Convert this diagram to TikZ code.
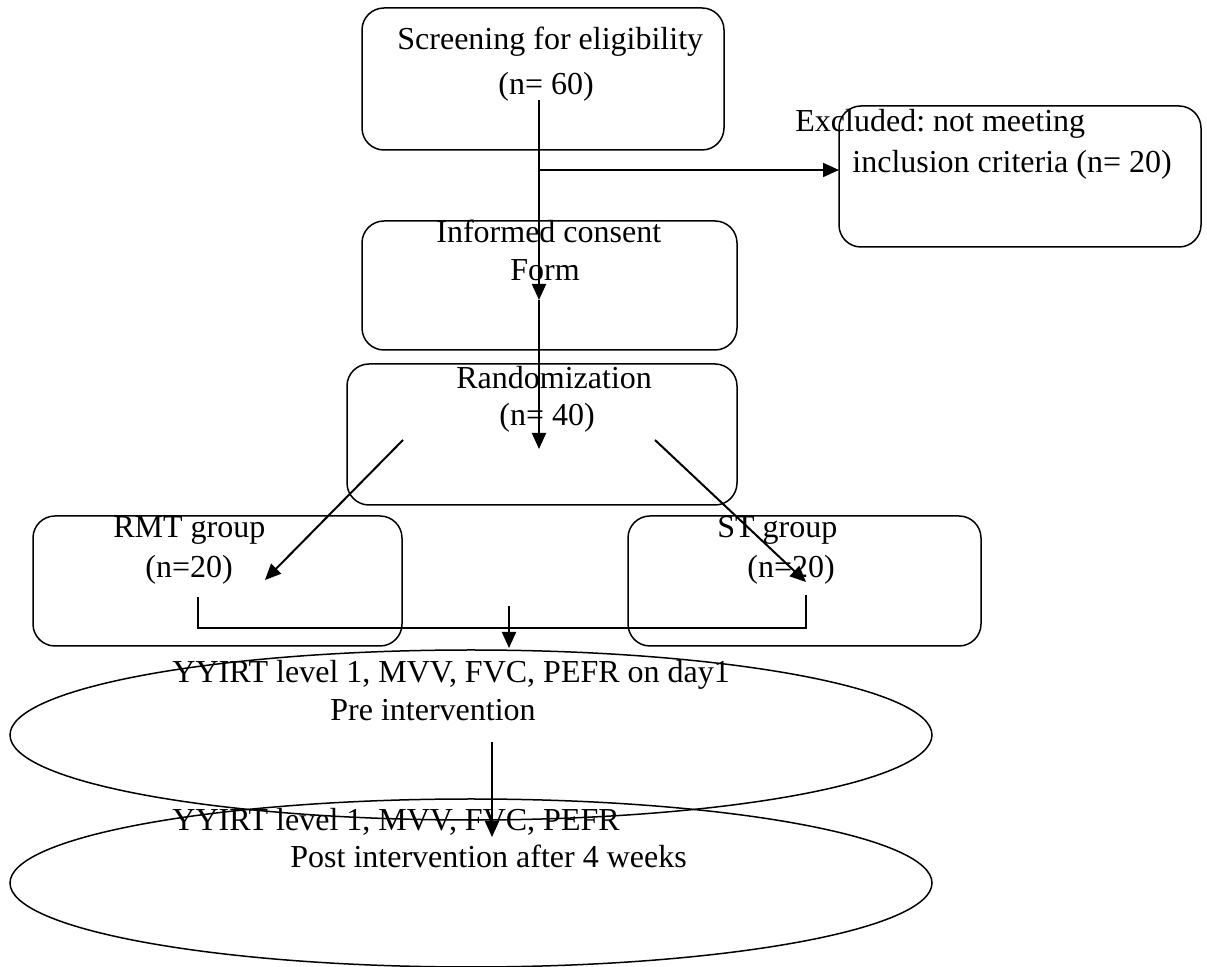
\documentclass[tikz,border=0pt]{standalone}
\usepackage{fontspec}
\setmainfont{Liberation Serif}
\usetikzlibrary{arrows.meta,shapes.geometric}
\frenchspacing
\begin{document}
\begin{tikzpicture}[x=0.5pt,y=-0.5pt,
  box/.style={draw, line width=0.75pt, rounded corners=11pt, anchor=north west, inner sep=0pt, outer sep=0pt},
  lbl/.style={anchor=base west, inner sep=0pt, font=\fontsize{16}{20}\selectfont},
  arr/.style={line width=1pt, -{Triangle[length=8pt,width=7pt]}},
  conn/.style={line width=1pt},
  ell/.style={draw, ellipse, line width=0.75pt, inner sep=0pt, outer sep=0pt}]
\useasboundingbox (0,0) rectangle (1207,967);
% boxes
\node[box, minimum width=181pt, minimum height=71pt] (screen) at (362,8) {};
\node[box, minimum width=181pt, minimum height=70.5pt] (excl) at (839,106) {};
\node[box, minimum width=187.5pt, minimum height=64.5pt] (consent) at (362,221) {};
\node[box, minimum width=195pt, minimum height=70.5pt] (rand) at (347,364) {};
\node[box, minimum width=184.5pt, minimum height=65pt] (rmt) at (33,516) {};
\node[box, minimum width=176.5pt, minimum height=65pt] (st) at (628,516) {};
\node[ell, minimum width=461pt, minimum height=85pt] (pre) at (471,735) {};
\node[ell, minimum width=461pt, minimum height=84pt] (post) at (471,883) {};
% labels
\node[lbl] (t1) at (397,50) {Screening for eligibility};
\node[lbl] (t2) at (498,95) {(n= 60)};
\node[lbl] (t3) at (795,132) {Excluded: not meeting};
\node[lbl] (t4) at (852,173) {inclusion criteria (n= 20)};
\node[lbl] (t5) at (436,243) {Informed consent};
\node[lbl] (t6) at (510,281) {Form};
\node[lbl] (t7) at (456,389) {Randomization};
\node[lbl] (t8) at (499,426) {(n= 40)};
\node[lbl] (t9) at (113,538) {RMT group};
\node[lbl] (t10) at (145,578) {(n=20)};
\node[lbl] (t11) at (717,538) {ST group};
\node[lbl] (t12) at (747,578) {(n=20)};
\node[lbl] (t13) at (172,683) {YYIRT level 1, MVV, FVC, PEFR on day1};
\node[lbl] (t14) at (330,721) {Pre intervention};
\node[lbl] (t15) at (172,831) {YYIRT level 1, MVV, FVC, PEFR};
\node[lbl] (t16) at (290,868) {Post intervention after 4 weeks};
% connector points
\coordinate (s1) at (539,100);
\coordinate (a1) at (539,300);
\coordinate (a2) at (539,449);
\coordinate (h0) at (539,170);
\coordinate (dl0) at (403,440);
\coordinate (dl1) at (265,580);
\coordinate (dr0) at (655,440);
\coordinate (dr1) at (806,582);
\coordinate (bl) at (198,597);
\coordinate (br) at (806,595);
\coordinate (bj) at (198,628);
\coordinate (m0) at (509,606);
\coordinate (m1) at (509,648);
\coordinate (e0) at (492,742);
\coordinate (e1) at (492,837);
% connectors
\draw[arr] (s1) -- (a1);
\draw[arr] (a1) -- (a2);
\draw[arr] (h0) -- (h0 -| excl.west);
\draw[arr] (dl0) -- (dl1);
\draw[arr] (dr0) -- (dr1);
\draw[conn] (bl) -- (bj) -- (bj -| br) -- (br);
\draw[arr] (m0) -- (m1);
\draw[arr] (e0) -- (e1);
\end{tikzpicture}
\end{document}
